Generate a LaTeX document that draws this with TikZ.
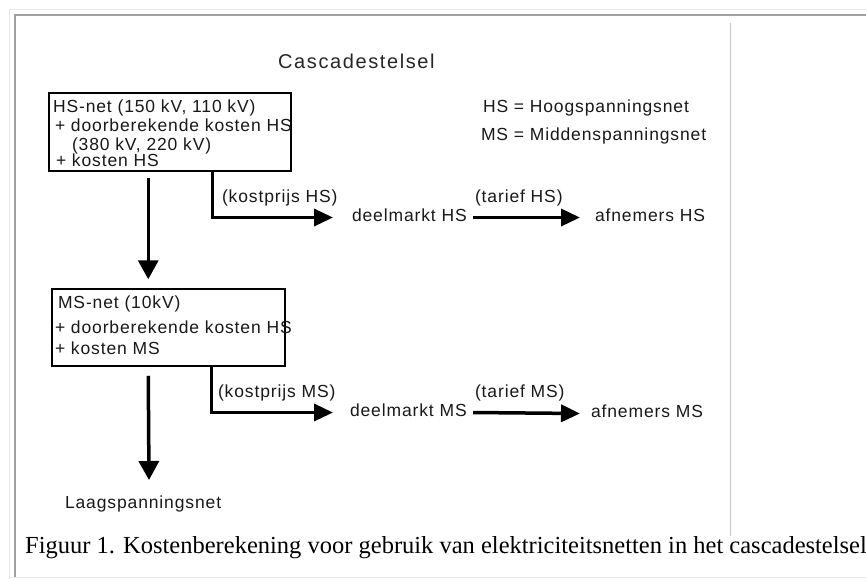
\documentclass[tikz,border=0pt]{standalone}
\usepackage{fontspec}
\usetikzlibrary{arrows.meta,calc}
\newfontfamily\diafont[LetterSpace=5]{Liberation Sans}
\newfontfamily\ttlfont[LetterSpace=8]{Liberation Sans}
\newfontfamily\capfont{Liberation Serif}
\definecolor{xpbeige}{HTML}{ECE9D8}
\definecolor{framegray}{HTML}{A0A0A0}
\definecolor{sepgray}{HTML}{C8C8C8}
\tikzset{
  txt/.style={anchor=base west, inner sep=0pt, outer sep=0pt, text=black!90, font={\diafont\fontsize{17.5}{21}\selectfont}},
  ttl/.style={anchor=base west, inner sep=0pt, text=black!85, font={\ttlfont\fontsize{20}{24}\selectfont}},
  capst/.style={anchor=base west, inner sep=0pt, text=black, font={\capfont\fontsize{24.5}{29}\selectfont}},
  boxst/.style={draw=black, line width=1.5pt, rectangle, inner sep=0pt},
  bigarr/.style={line width=3.5pt, -{Triangle[length=19pt,width=20pt]}},
  elbarr/.style={line width=3.5pt, -{Triangle[length=19pt,width=17pt]}},
  midarr/.style={line width=3.5pt, -{Triangle[length=19pt,width=17pt]}}
}
\begin{document}
\begin{tikzpicture}[x=1pt,y=-1pt]
\useasboundingbox (0,0) rectangle (866,579);
\fill[white] (0,0) rectangle (866,579);
% frame
\draw[xpbeige, line width=1.2pt] (9.5,579) -- (9.5,9.5) -- (866,9.5);
\draw[xpbeige, line width=1.2pt] (9.5,577.5) -- (866,577.5);
\draw[framegray, line width=1.5pt] (15,576.5) -- (15,15) -- (866,15);
\draw[sepgray, line width=1pt] (730,23) -- (730,536);
% title and legend
\node[ttl] (title) at (278,68) {Cascadestelsel};
\node[txt] (lg1) at (483,112) {HS = Hoogspanningsnet};
\node[txt] (lg2) at (481,140) {MS = Middenspanningsnet};
% HS box
\node[boxst, minimum width=242, minimum height=78] (hs) at (170,132) {};
\node[txt] (hs1) at (53,112) {HS-net (150 kV, 110 kV)};
\node[txt] (hs2) at (55,131) {+ doorberekende kosten HS};
\node[txt] (hs3) at (72,150) {(380 kV, 220 kV)};
\node[txt] (hs4) at (56,166) {+ kosten HS};
% MS box
\node[boxst, minimum width=233, minimum height=77] (ms) at (168.5,327.5) {};
\node[txt] (ms1) at (58,308) {MS-net (10kV)};
\node[txt] (ms2) at (55,333) {+ doorberekende kosten HS};
\node[txt] (ms3) at (55,354) {+ kosten MS};
% HS row
\node[txt] (kphs) at (222,202) {(kostprijs HS)};
\node[txt] (dmhs) at (352,221) {deelmarkt HS};
\node[txt] (trhs) at (475,202) {(tarief HS)};
\node[txt] (afhs) at (595,221) {afnemers HS};
% MS row
\node[txt] (kpms) at (218,397) {(kostprijs MS)};
\node[txt] (dmms) at (350,416) {deelmarkt MS};
\node[txt] (trms) at (475,397) {(tarief MS)};
\node[txt] (afms) at (591,417) {afnemers MS};
% bottom
\node[txt] (lsn) at (65,508) {Laagspanningsnet};
\node[capst] (caption) at (25,553) {Figuur 1. Kostenberekening voor gebruik van elektriciteitsnetten in het cascadestelsel};
% connectors
\draw[bigarr] ($(hs.south west)+(100,6)$) -- ($(ms.north west)+(97,-9)$);
\draw[elbarr] ($(hs.south west)+(164,0)$) |- ($(dmhs.base west)+(-19,-3.5)$);
\draw[midarr] ($(dmhs.base west)+(121,-3.5)$) -- ($(afhs.base west)+(-15,-3.5)$);
\draw[bigarr] ($(ms.south west)+(97,9)$) -- ($(lsn.base west)+(84,-28)$);
\draw[elbarr] ($(ms.south west)+(160,0)$) |- ($(dmms.base west)+(-17,-3.5)$);
\draw[midarr] ($(dmms.base west)+(123,-3.5)$) -- ($(afms.base west)+(-11,-3.5)$);
\end{tikzpicture}
\end{document}
